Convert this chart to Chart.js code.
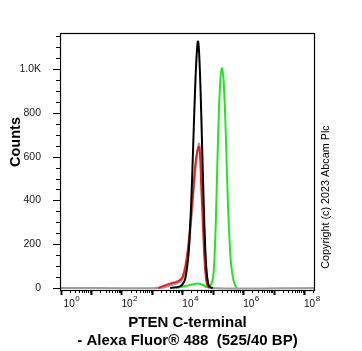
<!DOCTYPE html>
<html>
<head>
<meta charset="utf-8">
<script src="https://cdn.jsdelivr.net/npm/chart.js@4.4.1/dist/chart.umd.min.js"></script>
<style>
  html, body { margin: 0; padding: 0; background: #fff; }
  #wrap { width: 362px; height: 351px; position: relative; }
</style>
</head>
<body>
<div id="wrap"><canvas id="c" width="362" height="351"></canvas></div>
<script>
// x values are log10 of the fluorescence, y values are counts
var grayX  = [0, 3.3, 3.5, 3.7, 3.9, 4.0, 4.1, 4.2, 4.3, 4.4, 4.45, 4.5, 4.55, 4.6, 4.65, 4.7, 4.75, 4.8, 4.85, 4.92, 8.36]
var grayY  = [0, 0, 7, 16, 27, 40, 80, 170, 320, 490, 570, 625, 660, 610, 480, 310, 150, 60, 18, 0, 0]

var redX   = [3.2, 3.4, 3.6, 3.8, 3.9, 4.0, 4.1, 4.2, 4.3, 4.4, 4.45, 4.5, 4.54, 4.58, 4.62, 4.67, 4.72, 4.77, 4.82, 4.9]
var redY   = [0, 10, 20, 28, 34, 48, 100, 200, 350, 520, 590, 630, 645, 610, 470, 310, 150, 55, 12, 0]

var blackX = [3.6, 3.8, 3.9, 4.0, 4.1, 4.2, 4.25, 4.3, 4.35, 4.4, 4.45, 4.5, 4.52, 4.55, 4.6, 4.65, 4.7, 4.75, 4.8, 4.85, 4.9, 5.0]
var blackY = [0, 3, 6, 15, 45, 150, 260, 420, 620, 830, 1010, 1120, 1126, 1080, 900, 650, 400, 190, 70, 20, 5, 0]

var greenX = [3.8, 4.0, 4.2, 4.4, 4.5, 4.6, 4.7, 4.8, 4.9, 5.0, 5.05, 5.1, 5.15, 5.2, 5.25, 5.3, 5.35, 5.4, 5.45, 5.5, 5.55, 5.6, 5.65, 5.7, 5.75, 5.8]
var greenY = [0, 5, 12, 18, 20, 18, 12, 4, 5, 40, 120, 300, 560, 800, 950, 1004, 960, 820, 600, 380, 220, 110, 60, 25, 8, 0]

var xMajor = [0, 2, 4, 6, 8]
var yMajor = [0, 200, 400, 600, 800, 1000]
var xTitle = ['PTEN C-terminal', '- Alexa Fluor\u00ae 488  (525/40 BP)']
var yTitle = 'Counts'
var copyright = 'Copyright (c) 2023 Abcam Plc'

var FONT = "'Liberation Sans', Arial, sans-serif"

function pts(xs, ys){
    let out = []
    for (let i = 0; i < xs.length; i++) out.push({x: xs[i], y: ys[i]})
    return out
}

function line(label, xs, ys, color, w){
    return {
        label: label,
        data: pts(xs, ys),
        borderColor: color,
        borderWidth: w,
        pointRadius: 0,
        tension: 0.35,
        fill: false
    }
}

// frame, log-style tick marks, decade labels and the extra texts
var decor = {
    id: 'decor',
    afterDraw(chart){
        let ctx = chart.ctx
        let a = chart.chartArea
        let xs = chart.scales.x
        let ys = chart.scales.y
        ctx.save()
        ctx.strokeStyle = '#000'
        ctx.lineWidth = 1.2
        ctx.strokeRect(a.left + 0.5, a.top + 0.5, a.right - a.left - 1, a.bottom - a.top)

        // y ticks
        for (let v = 0; v <= ys.max; v += 50) {
            let p = Math.round(ys.getPixelForValue(v)) + 0.5
            let len = v % 200 === 0 ? 7 : 4
            ctx.lineWidth = 1
            ctx.beginPath()
            ctx.moveTo(a.left - len, p)
            ctx.lineTo(a.left, p)
            ctx.stroke()
        }
        // x ticks, decades and their minors
        for (let d = 0; d <= 8; d++) {
            for (let k = 1; k <= 9; k++) {
                let v = d + Math.log10(k)
                if (v > xs.max) break
                let p = Math.round(xs.getPixelForValue(v)) + 0.5
                let len = k === 1 ? 5 : 3
                ctx.lineWidth = k === 1 ? 2 : 1
                ctx.beginPath()
                ctx.moveTo(p, a.bottom)
                ctx.lineTo(p, a.bottom + len)
                ctx.stroke()
            }
        }

        // decade labels: 10 with a raised exponent
        ctx.fillStyle = '#111'
        ctx.textAlign = 'left'
        ctx.textBaseline = 'alphabetic'
        for (let v of xMajor) {
            let p = xs.getPixelForValue(v) + (v === 0 ? 3 : 0)
            ctx.font = '10px ' + FONT
            ctx.fillText('10', p, a.bottom + 17)
            let w = ctx.measureText('10').width
            ctx.font = '8px ' + FONT
            ctx.fillText(String(v), p + w + 0.5, a.bottom + 11)
        }

        ctx.fillStyle = '#000'
        ctx.textAlign = 'center'
        ctx.textBaseline = 'middle'
        ctx.translate(16, 142)
        ctx.rotate(-Math.PI / 2)
        ctx.font = 'bold 14.5px ' + FONT
        ctx.fillText(yTitle, 0, 0)
        ctx.restore()

        ctx.save()
        ctx.fillStyle = '#000'
        ctx.textAlign = 'center'
        ctx.textBaseline = 'middle'
        ctx.translate(326, 197)
        ctx.rotate(-Math.PI / 2)
        ctx.font = '10.8px ' + FONT
        ctx.fillText(copyright, 0, 0)
        ctx.restore()
    }
}

new Chart(document.getElementById('c').getContext('2d'), {
    type: 'line',
    data: {
        // first in the list is drawn on top
        datasets: [
            line('black', blackX, blackY, '#000000', 2),
            line('red', redX, redY, '#e8201c', 2),
            line('gray', grayX, grayY, '#a09c9c', 2),
            line('green', greenX, greenY, '#22e622', 2)
        ]
    },
    options: {
        responsive: false,
        animation: false,
        layout: { padding: { top: 33, right: 47, left: 0, bottom: 0 } },
        plugins: { legend: { display: false }, tooltip: { enabled: false } },
        scales: {
            x: {
                type: 'linear',
                min: -0.02,
                max: 8.36,
                grid: { display: false },
                border: { display: false },
                afterBuildTicks: function(s){ s.ticks = xMajor.map(v => ({value: v})) },
                afterFit: function(s){ s.height = 61 },
                ticks: {
                    display: false
                },
                title: {
                    display: true,
                    text: xTitle,
                    color: '#000',
                    font: { family: FONT, size: 15, weight: 'bold', lineHeight: 1.22 },
                    padding: { top: 2, bottom: 1 }
                }
            },
            y: {
                type: 'linear',
                min: -9.2,
                max: 1165,
                grid: { display: false },
                border: { display: false },
                afterBuildTicks: function(s){ s.ticks = yMajor.map(v => ({value: v})) },
                afterFit: function(s){ s.width = 60 },
                ticks: {
                    padding: 11,
                    color: '#222',
                    font: { family: FONT, size: 10.5 },
                    callback: function(v){ return v >= 1000 ? (v / 1000).toFixed(1) + 'K' : v }
                }
            }
        }
    },
    plugins: [decor]
})
</script>
</body>
</html>
